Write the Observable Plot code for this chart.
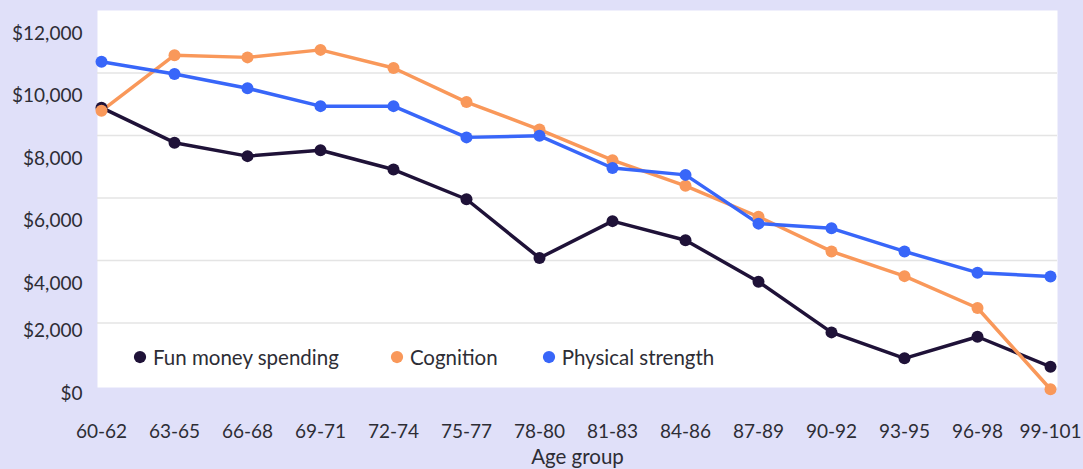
<!DOCTYPE html>
<html>
<head>
<meta charset="utf-8">
<script src="https://cdn.jsdelivr.net/npm/d3@7"></script>
<script src="https://cdn.jsdelivr.net/npm/@observablehq/plot@0.6"></script>
<style>
  html, body { margin: 0; padding: 0; background: #e0e0f9; }
  #chart { position: relative; width: 1083px; height: 469px; overflow: hidden; }
  #chart figure { margin: 0; position: relative; }
  #chart figure > div {
    position: absolute; left: 133px; top: 344px; z-index: 2;
    font-family: Lato, sans-serif !important; font-size: 20.5px !important; color: #2d2d35 !important;
    margin: 0 !important; display: flex; align-items: center; min-height: 26px !important;
  }
  #chart figure > div > style { display: none !important; }
  #chart figure > div > :not(style) { margin-right: 44px !important; display: inline-flex; align-items: center; }
  #chart figure > div > :not(style):nth-of-type(1) { margin-right: 51px !important; }
  #chart figure > div svg { margin-right: 6px !important; }
</style>
</head>
<body>
<div id="chart"></div>
<script>
const ageGroups = ["60-62","63-65","66-68","69-71","72-74","75-77","78-80","81-83","84-86","87-89","90-92","93-95","96-98","99-101"];
const funMoney  = [8890, 7770, 7340, 7530, 6910, 5960, 4080, 5260, 4650, 3320, 1700, 870, 1560, 600];
const cognition = [8790, 10570, 10500, 10740, 10160, 9070, 8190, 7210, 6390, 5400, 4290, 3500, 2480, -120];
const physical  = [10360, 9970, 9510, 8940, 8940, 7940, 7990, 6960, 6740, 5180, 5030, 4290, 3610, 3490];
const seriesNames = ["Fun money spending", "Cognition", "Physical strength"];
const seriesColors = ["#1f1238", "#f9985a", "#3866f9"];
const yTicks = [0, 2000, 4000, 6000, 8000, 10000, 12000];

const seriesValues = [funMoney, cognition, physical];
const data = seriesNames.flatMap((s, i) =>
  seriesValues[i].map((v, j) => ({series: s, age: ageGroups[j], value: v})));

const fmt = d => "$" + d3.format(",")(d);

const chart = Plot.plot({
  width: 1083,
  height: 469,
  marginLeft: 97,
  marginRight: 26,
  marginTop: 10,
  marginBottom: 82,
  style: {background: "transparent", fontFamily: "Lato, sans-serif", fontSize: "19px", color: "#2d2d35"},
  x: {type: "point", domain: ageGroups, padding: 0, insetRight: 3, label: null},
  y: {domain: [0, 12000], insetBottom: 2, label: null},
  color: {domain: seriesNames, range: seriesColors},
  symbol: {domain: seriesNames, range: ["circle", "circle", "circle"], legend: true, r: 7, swatchSize: 14},
  marks: [
    Plot.frame({fill: "white", stroke: null}),
    Plot.gridY(yTicks.filter(v => v > 0 && v < 12000), {stroke: "#e4e4e4", strokeOpacity: 1, strokeWidth: 1.5}),
    Plot.axisY(yTicks.filter(v => v >= 4000), {tickSize: 0, tickPadding: 15, dy: 23, tickFormat: fmt, label: null}),
    Plot.axisY(yTicks.filter(v => v < 4000), {tickSize: 0, tickPadding: 15, dy: 8, tickFormat: fmt, label: null}),
    Plot.axisX(ageGroups, {tickSize: 0, tickPadding: 37, label: null}),
    Plot.text(["Age group"], {text: d => d, frameAnchor: "bottom", dy: 76, fontSize: 20.5, fill: "#2d2d35"}),
    Plot.line(data, {x: "age", y: "value", z: "series", stroke: "series", strokeWidth: 3.5}),
    Plot.dot(data, {x: "age", y: "value", fill: "series", symbol: "series", r: 6})
  ]
});
document.getElementById("chart").appendChild(chart);
</script>
</body>
</html>
